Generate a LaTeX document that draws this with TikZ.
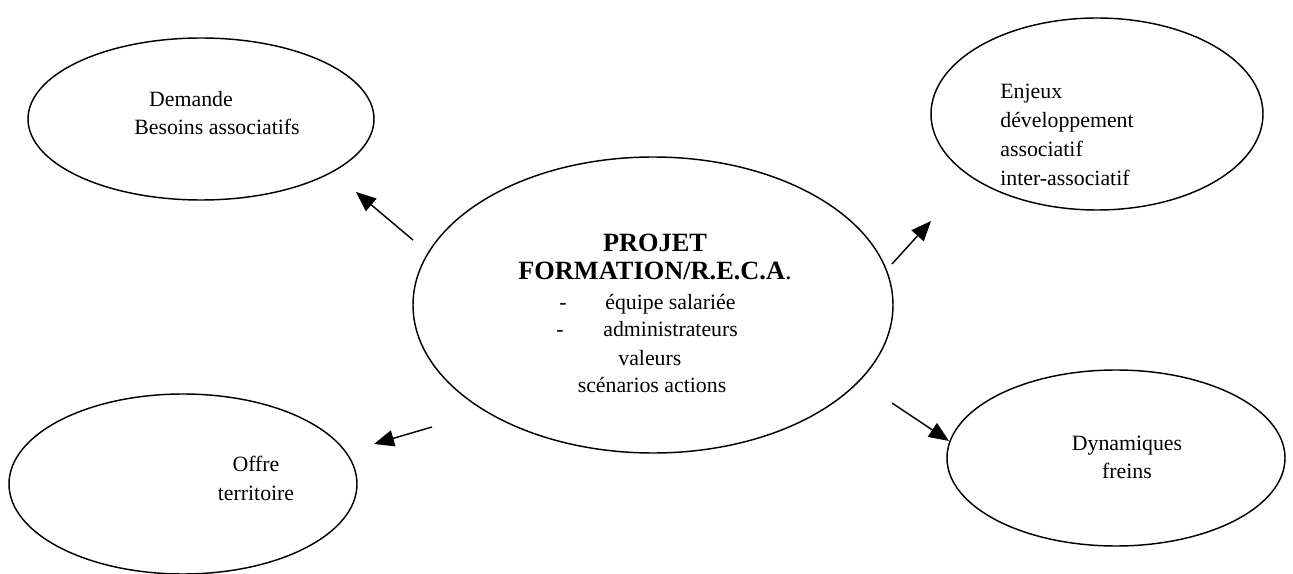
\documentclass[tikz,border=0pt]{standalone}
\usepackage{fontspec}
\setmainfont{Liberation Serif}
\usetikzlibrary{arrows.meta}
\begin{document}
\begin{tikzpicture}[x=0.55pt,y=-0.55pt,
  lbl/.style={font=\fontsize{12}{14}\selectfont,inner sep=0pt,anchor=base},
  lbll/.style={font=\fontsize{12}{14}\selectfont,inner sep=0pt,anchor=base west},
  ttl/.style={font=\fontsize{14.5}{17}\selectfont\bfseries,inner sep=0pt,anchor=base},
  link/.style={line width=0.8pt,-{Triangle[length=11pt,width=9pt]}}]
\useasboundingbox (0,0) rectangle (1293,574);
% ellipses
\draw[line width=0.8pt] (201,119) ellipse [x radius=173, y radius=81];
\draw[line width=0.8pt] (1097,114) ellipse [x radius=166, y radius=96];
\draw[line width=0.8pt] (653,305) ellipse [x radius=240, y radius=148];
\draw[line width=0.8pt] (183,484) ellipse [x radius=174, y radius=90];
\draw[line width=0.8pt] (1116,458) ellipse [x radius=169, y radius=88];
% texts
\node[lbl] (d1) at (191,107) {Demande};
\node[lbl] (d2) at (217,135) {Besoins associatifs};
\node[lbll] (e1) at (1000,99) {Enjeux};
\node[lbll] (e2) at (1000,128) {développement};
\node[lbll] (e3) at (1000,157) {associatif};
\node[lbll] (e4) at (1000,186) {inter-associatif};
\node[lbl] (f1) at (1127,450) {Dynamiques};
\node[lbl] (f2) at (1127,478) {freins};
\node[lbl] (o1) at (256,471) {Offre};
\node[lbl] (o2) at (256,500) {territoire};
\node[ttl] (p1) at (655,252) {PROJET};
\node[ttl] (p2) at (655,280) {FORMATION/R.E.C.A\textmd{.}};
\node[lbl] (p3a) at (563,310) {-};
\node[lbll] (p3) at (605,310) {équipe salariée};
\node[lbl] (p4a) at (560,337) {-};
\node[lbll] (p4) at (603,337) {administrateurs};
\node[lbll] (p5) at (618,365) {valeurs};
\node[lbl] (p6) at (652,393) {scénarios actions};
% arrows
\coordinate (a1s) at (413,240); \coordinate (a1e) at (356,192);
\coordinate (a2s) at (432,427); \coordinate (a2e) at (374,444);
\coordinate (a3s) at (892,264); \coordinate (a3e) at (931,221);
\coordinate (a4s) at (892,403); \coordinate (a4e) at (949,441);
\draw[link] (a1s) -- (a1e);
\draw[link] (a2s) -- (a2e);
\draw[link] (a3s) -- (a3e);
\draw[link] (a4s) -- (a4e);
\end{tikzpicture}
\end{document}
